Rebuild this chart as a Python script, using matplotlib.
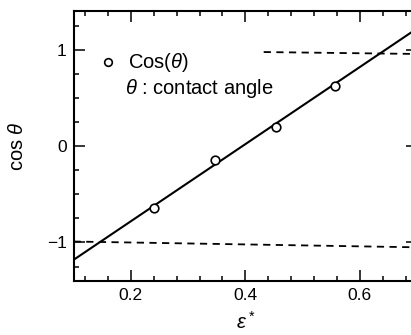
import matplotlib
matplotlib.use("Agg")
import matplotlib.pyplot as plt
import numpy as np

plt.rcParams["font.family"] = ["Liberation Sans", "DejaVu Sans"]
plt.rcParams["mathtext.fontset"] = "custom"
plt.rcParams["mathtext.rm"] = "Liberation Sans"
plt.rcParams["mathtext.it"] = "Liberation Sans:italic"

# measured contact angles
eps_star = [0.240, 0.347, 0.453, 0.556]
cos_theta = [-0.64, -0.145, 0.20, 0.62]

# straight fit through the points (end points)
fit_x = [0.10, 0.70]
fit_y = [-1.18, 1.22]

# dashed limit lines (cos = +1 and cos = -1, slightly skewed in the scan)
upper_x = [0.432, 0.70]
upper_y = [0.975, 0.955]
lower_x = [0.10, 0.70]
lower_y = [-0.99, -1.05]

xticks = [0.2, 0.4, 0.6]
yticks = [-1, 0, 1]

fig = plt.figure(figsize=(4.11, 3.35), dpi=100, facecolor="white")
ax = fig.add_axes([0.179, 0.161, 0.836, 0.806])

ax.plot(fit_x, fit_y, color="black", lw=1.5, zorder=2)
ax.plot(upper_x, upper_y, color="black", lw=1.3, ls=(0, (4, 3)), zorder=1)
ax.plot(lower_x, lower_y, color="black", lw=1.3, ls=(0, (4, 3)), zorder=1)
ax.plot(eps_star, cos_theta, ls="none", marker="o", ms=6.2, mfc="white",
        mec="black", mew=1.2, zorder=3)

ax.set_xlim(0.1, 0.7)
ax.set_ylim(-1.4, 1.4)
ax.set_xticks(xticks)
ax.set_xticklabels([f"{v:.1f}" for v in xticks])
ax.set_yticks(yticks)
ax.set_yticklabels(["\u22121", "0", "1"])
ax.set_xticks(np.arange(0.12, 0.7, 0.04), minor=True)
ax.set_yticks([-1.25, -0.75, -0.5, -0.25, 0.25, 0.5, 0.75, 1.25], minor=True)

ax.tick_params(which="both", direction="in", top=True, right=True,
               width=1.1, labelsize=12.5, pad=5)
ax.tick_params(which="major", length=8)
ax.tick_params(which="minor", length=3.8)
# half-unit ticks on the y axis are a bit longer
for t in ax.yaxis.get_minor_ticks():
    if abs(abs(t.get_loc()) - 0.5) < 1e-6:
        t.tick1line.set_markersize(6)
        t.tick2line.set_markersize(6)

for s in ax.spines.values():
    s.set_linewidth(1.5)

ax.set_ylabel(r"cos $\theta$", fontsize=14.5, labelpad=14)
ax.set_xlabel(r"$\varepsilon^*$", fontsize=14.5, labelpad=6)

# in-plot legend
ax.plot([0.16], [0.87], ls="none", marker="o", ms=5.5, mfc="white",
        mec="black", mew=1.2)
ax.text(0.195, 0.87, r"Cos($\theta$)", fontsize=14.5, va="center", ha="left")
ax.text(0.19, 0.60, r"$\theta$ : contact angle", fontsize=14.5, va="center", ha="left")

fig.savefig("out.png", dpi=100, facecolor="white")
